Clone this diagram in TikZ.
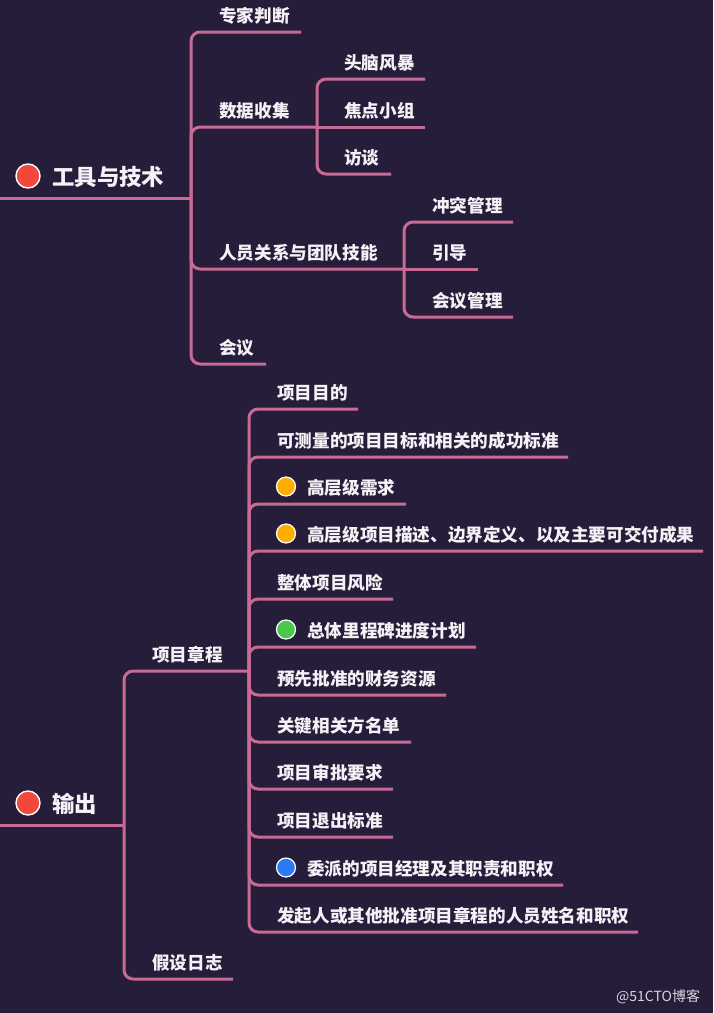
\documentclass[tikz,border=0pt]{standalone}
\usepackage{fontspec}
\setmainfont{Noto Sans CJK SC}
\definecolor{bg}{HTML}{261D3A}
\definecolor{br}{HTML}{C96A94}
\definecolor{txt}{HTML}{F4F2F6}
\definecolor{dred}{HTML}{F2473A}
\definecolor{dorange}{HTML}{FFAE00}
\definecolor{dgreen}{HTML}{47C84B}
\definecolor{dblue}{HTML}{2A7BF4}
\definecolor{wm}{HTML}{D8D6DC}
\tikzset{
  branch/.style={draw=br,line width=3pt,rounded corners=9pt},
  lbl/.style={anchor=base west,inner sep=0pt,text=txt,font=\bfseries\fontsize{17.6}{17.6}\selectfont},
  rootlbl/.style={anchor=base west,inner sep=0pt,text=txt,font=\bfseries\fontsize{22.4}{22.4}\selectfont},
  bigdot/.style={circle,draw=white,line width=1.4pt,minimum size=24pt,inner sep=0pt},
  dot/.style={circle,draw=white,line width=1.2pt,minimum size=19pt,inner sep=0pt},
}
\begin{document}
\begin{tikzpicture}[x=1pt,y=-1pt]
\fill[bg] (0,0) rectangle (713,1013);
\useasboundingbox (0,0) rectangle (713,1013);

% ---------- 工具与技术 ----------
\coordinate (r1s) at (0,198);
\coordinate (r1j) at (191,198);
\node[bigdot,fill=dred] (d1) at (28,176) {};
\node[rootlbl] (r1) at (52,185) {工具与技术};
\draw[branch] (r1s) -- (r1j);

\coordinate (e11) at (301,32);
\coordinate (e12) at (317,127);
\coordinate (e13) at (404,269);
\coordinate (e14) at (266,364);
\node[lbl] (n11) at (219,22) {专家判断};
\node[lbl] (n12) at (219,117) {数据收集};
\node[lbl] (n13) at (219,259) {人员关系与团队技能};
\node[lbl] (n14) at (219,354) {会议};
\draw[branch] (r1j) |- (e11);
\draw[branch] (r1j) |- (e12);
\draw[branch] (r1j) |- (e13);
\draw[branch] (r1j) |- (e14);

\coordinate (e121) at (425,79);
\coordinate (e122) at (425,127);
\coordinate (e123) at (391,174);
\node[lbl] (n121) at (344,69) {头脑风暴};
\node[lbl] (n122) at (344,117) {焦点小组};
\node[lbl] (n123) at (344,164) {访谈};
\draw[branch] (e12) |- (e121);
\draw[branch] (e12) -- (e122);
\draw[branch] (e12) |- (e123);

\coordinate (e131) at (513,222);
\coordinate (e132) at (478,269);
\coordinate (e133) at (513,317);
\node[lbl] (n131) at (432,212) {冲突管理};
\node[lbl] (n132) at (432,259) {引导};
\node[lbl] (n133) at (432,307) {会议管理};
\draw[branch] (e13) |- (e131);
\draw[branch] (e13) -- (e132);
\draw[branch] (e13) |- (e133);

% ---------- 输出 ----------
\coordinate (r2s) at (0,825);
\coordinate (r2j) at (124,825);
\node[bigdot,fill=dred] (d2) at (28,803) {};
\node[rootlbl] (r2) at (52,812) {输出};
\draw[branch] (r2s) -- (r2j);

\coordinate (e21) at (249,671);
\coordinate (e22) at (233,979);
\node[lbl] (n21) at (152,661) {项目章程};
\node[lbl] (n22) at (152,969) {假设日志};
\draw[branch] (r2j) |- (e21);
\draw[branch] (r2j) |- (e22);

\coordinate (c1) at (358,409);
\coordinate (c2) at (568,457);
\coordinate (c3) at (406,504);
\coordinate (c4) at (703,551);
\coordinate (c5) at (393,599);
\coordinate (c6) at (476,647);
\coordinate (c7) at (446,695);
\coordinate (c8) at (411,742);
\coordinate (c9) at (393,789);
\coordinate (c10) at (393,837);
\coordinate (c11) at (563,885);
\coordinate (c12) at (638,932);
\foreach \c in {c1,c2,c3,c4,c5,c6,c7,c8,c9,c10,c11,c12}
  \draw[branch] (e21) |- (\c);

\node[lbl] (m1) at (277,399) {项目目的};
\node[lbl] (m2) at (277,447) {可测量的项目目标和相关的成功标准};
\node[dot,fill=dorange] (k3) at (286,486.5) {};
\node[lbl] (m3) at (307,494) {高层级需求};
\node[dot,fill=dorange] (k4) at (286,533.5) {};
\node[lbl] (m4) at (307,541) {高层级项目描述、边界定义、以及主要可交付成果};
\node[lbl] (m5) at (277,589) {整体项目风险};
\node[dot,fill=dgreen] (k6) at (286,629.5) {};
\node[lbl] (m6) at (307,637) {总体里程碑进度计划};
\node[lbl] (m7) at (277,685) {预先批准的财务资源};
\node[lbl] (m8) at (277,732) {关键相关方名单};
\node[lbl] (m9) at (277,779) {项目审批要求};
\node[lbl] (m10) at (277,827) {项目退出标准};
\node[dot,fill=dblue] (k11) at (286,867.5) {};
\node[lbl] (m11) at (307,875) {委派的项目经理及其职责和职权};
\node[lbl] (m12) at (277,922) {发起人或其他批准项目章程的人员姓名和职权};

\node[anchor=base west,inner sep=0pt,text=wm,font=\fontsize{14}{14}\selectfont] (wmk) at (616,1001) {@51CTO博客};
\end{tikzpicture}
\end{document}
